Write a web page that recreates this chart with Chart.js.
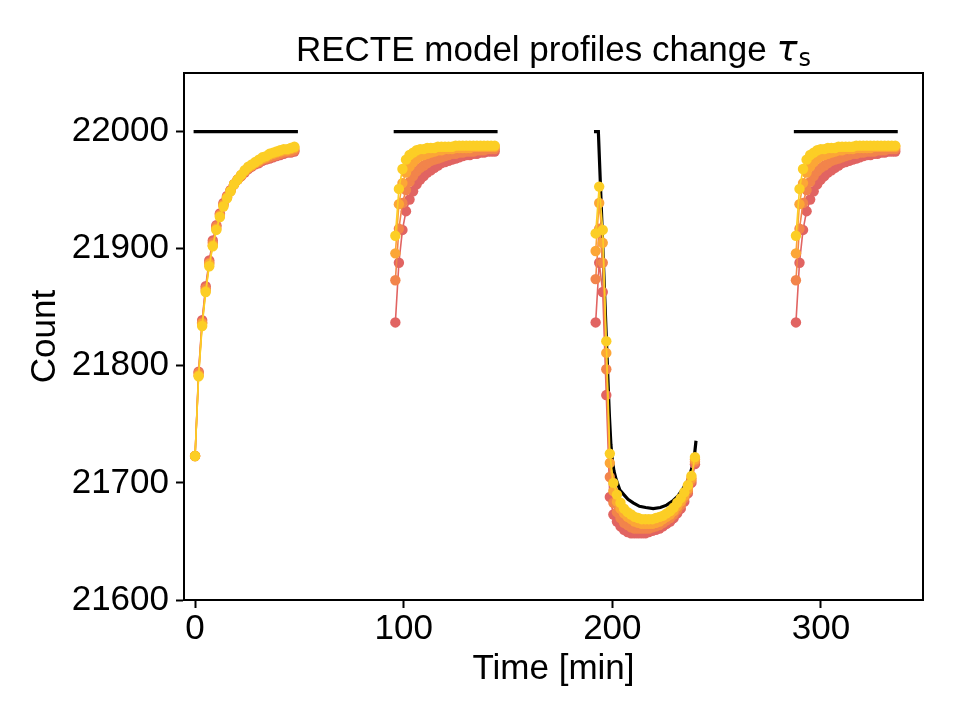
<!DOCTYPE html>
<html><head><meta charset="utf-8">
<script src="https://cdn.jsdelivr.net/npm/chart.js@4.4.1/dist/chart.umd.min.js"></script>
<style>html,body{margin:0;padding:0;background:#fff;}canvas{display:block;}</style>
</head><body>
<canvas id="c" width="960" height="720"></canvas>
<script>
// ---- data ----
const orbitStarts = [0, 96, 192, 288];
const expOffsets = [0, 1.7, 3.4, 5.1, 6.8, 8.5, 10.2, 11.9, 13.6, 15.3, 17, 18.7, 20.4, 22.1, 23.8, 25.5, 27.2, 28.9, 30.6, 32.3, 34, 35.7, 37.4, 39.1, 40.8, 42.5, 44.2, 45.9, 47.6];
const xTicks = [0, 100, 200, 300];
const yTicks = [21600, 21700, 21800, 21900, 22000];
const seriesColors = ['#e16462', '#f2844b', '#fca636', '#fcce25'];

// series 1 (red)
const redO1 = [21723, 21795, 21839, 21868, 21890, 21907, 21920, 21930, 21939, 21945, 21950, 21955, 21959, 21962, 21965, 21968, 21970, 21972, 21973, 21975, 21976, 21977, 21978, 21979, 21980, 21981, 21982, 21982, 21983];
const redO2 = [21837, 21888, 21916, 21932, 21942, 21949, 21955, 21959, 21962, 21965, 21967, 21969, 21971, 21973, 21974, 21975, 21976, 21977, 21978, 21979, 21980, 21980, 21981, 21981, 21982, 21982, 21983, 21983, 21983];
const redO3 = [21837, 21888, 21863, 21775, 21688, 21673, 21667, 21663, 21660, 21658, 21657, 21657, 21657, 21657, 21657, 21658, 21659, 21660, 21661, 21663, 21665, 21667, 21670, 21674, 21678, 21684, 21691, 21700, 21716];
const redO4 = [21837, 21888, 21916, 21932, 21942, 21949, 21955, 21959, 21962, 21965, 21967, 21969, 21971, 21973, 21974, 21975, 21976, 21977, 21978, 21979, 21980, 21980, 21981, 21981, 21982, 21982, 21983, 21983, 21983];
// series 2 (orange-red)
const orangeRedO1 = [21723, 21794, 21837, 21866, 21888, 21905, 21919, 21929, 21938, 21944, 21950, 21955, 21959, 21962, 21966, 21969, 21971, 21973, 21974, 21976, 21977, 21978, 21979, 21980, 21981, 21982, 21983, 21983, 21984];
const orangeRedO2 = [21873, 21917, 21939, 21950, 21957, 21962, 21966, 21969, 21971, 21973, 21975, 21976, 21977, 21978, 21979, 21980, 21981, 21981, 21982, 21982, 21983, 21983, 21983, 21984, 21984, 21984, 21985, 21985, 21985];
const orangeRedO3 = [21874, 21917, 21888, 21797, 21705, 21683, 21675, 21670, 21666, 21664, 21662, 21661, 21661, 21661, 21661, 21661, 21662, 21663, 21664, 21666, 21668, 21670, 21673, 21677, 21681, 21687, 21693, 21702, 21718];
const orangeRedO4 = [21873, 21917, 21939, 21950, 21957, 21962, 21966, 21969, 21971, 21973, 21975, 21976, 21977, 21978, 21979, 21980, 21981, 21981, 21982, 21982, 21983, 21983, 21983, 21984, 21984, 21984, 21985, 21985, 21985];
// series 3 (orange)
const orangeO1 = [21723, 21792, 21836, 21864, 21887, 21903, 21917, 21928, 21937, 21944, 21949, 21955, 21959, 21963, 21966, 21969, 21971, 21973, 21975, 21977, 21978, 21980, 21981, 21982, 21983, 21984, 21984, 21985, 21986];
const orangeO2 = [21896, 21938, 21956, 21965, 21970, 21974, 21977, 21979, 21980, 21981, 21982, 21983, 21984, 21984, 21985, 21985, 21985, 21986, 21986, 21986, 21986, 21986, 21987, 21987, 21987, 21987, 21987, 21987, 21987];
const orangeO3 = [21898, 21939, 21905, 21811, 21717, 21693, 21684, 21678, 21674, 21671, 21669, 21667, 21666, 21665, 21665, 21665, 21665, 21666, 21667, 21669, 21671, 21673, 21676, 21680, 21684, 21689, 21695, 21704, 21720];
const orangeO4 = [21896, 21938, 21956, 21965, 21970, 21974, 21977, 21979, 21980, 21981, 21982, 21983, 21984, 21984, 21985, 21985, 21985, 21986, 21986, 21986, 21986, 21986, 21987, 21987, 21987, 21987, 21987, 21987, 21987];
// series 4 (yellow)
const yellowO1 = [21723, 21791, 21834, 21863, 21885, 21902, 21916, 21927, 21936, 21943, 21949, 21955, 21959, 21963, 21967, 21970, 21972, 21974, 21976, 21978, 21979, 21981, 21982, 21983, 21984, 21985, 21985, 21986, 21987];
const yellowO2 = [21911, 21951, 21968, 21976, 21980, 21982, 21984, 21985, 21985, 21986, 21986, 21986, 21987, 21987, 21987, 21987, 21987, 21988, 21988, 21988, 21988, 21988, 21988, 21988, 21988, 21988, 21988, 21988, 21988];
const yellowO3 = [21913, 21953, 21916, 21821, 21725, 21700, 21690, 21683, 21678, 21675, 21673, 21671, 21670, 21669, 21669, 21669, 21669, 21670, 21671, 21672, 21674, 21676, 21679, 21683, 21687, 21692, 21698, 21706, 21722];
const yellowO4 = [21911, 21951, 21968, 21976, 21980, 21982, 21984, 21985, 21985, 21986, 21986, 21986, 21987, 21987, 21987, 21987, 21987, 21988, 21988, 21988, 21988, 21988, 21988, 21988, 21988, 21988, 21988, 21988, 21988];

// model (black) segments
const modelFlatX = [[-0.7, 49.3], [95.2, 145.0], [287.0, 336.8]];
const modelFlatY = [22000, 22000];
const modelO3X = [191.2, 193.3, 194.0, 194.8, 195.6, 196.4, 197.2, 198.0, 198.6, 199.3, 200.0, 200.8, 201.8, 203.6, 205.5, 207.5, 210.0, 213.0, 216.0, 219.6, 223.0, 226.0, 229.2, 231.5, 233.5, 235.6, 237.0, 238.5, 239.4, 240.1];
const modelO3Y = [22000, 22000, 21968, 21931, 21894, 21857, 21820, 21783, 21757, 21733, 21719, 21710, 21703, 21694, 21690, 21686, 21683, 21680, 21679, 21678, 21679, 21681, 21685, 21689, 21694, 21700, 21706, 21715, 21724, 21736];

// ---- build datasets ----
function buildSeries(orbits) {
  const pts = [];
  orbits.forEach((vals, o) => {
    vals.forEach((v, k) => pts.push({x: orbitStarts[o] + expOffsets[k], y: v}));
    pts.push({x: orbitStarts[o] + 50, y: null});
  });
  return pts;
}
const modelPts = [];
modelFlatX.slice(0, 2).forEach(seg => { seg.forEach((x, i) => modelPts.push({x, y: modelFlatY[i]})); modelPts.push({x: seg[1] + 1, y: null}); });
modelO3X.forEach((x, i) => modelPts.push({x, y: modelO3Y[i]}));
modelPts.push({x: 241, y: null});
modelFlatX[2].forEach((x, i) => modelPts.push({x, y: modelFlatY[i]}));

const seriesData = [
  buildSeries([yellowO1, yellowO2, yellowO3, yellowO4]),
  buildSeries([orangeO1, orangeO2, orangeO3, orangeO4]),
  buildSeries([orangeRedO1, orangeRedO2, orangeRedO3, orangeRedO4]),
  buildSeries([redO1, redO2, redO3, redO4])
];
const seriesColorOrder = [seriesColors[3], seriesColors[2], seriesColors[1], seriesColors[0]];

const datasets = seriesData.map((d, i) => ({
  data: d,
  borderColor: seriesColorOrder[i],
  backgroundColor: seriesColorOrder[i],
  pointBackgroundColor: seriesColorOrder[i],
  pointBorderColor: seriesColorOrder[i],
  pointBorderWidth: 0,
  pointRadius: 5.2,
  borderWidth: 1.6,
  spanGaps: false,
  tension: 0
}));
datasets.push({
  data: modelPts,
  borderColor: '#000',
  borderWidth: 3.2,
  pointRadius: 0,
  spanGaps: false,
  tension: 0,
  borderCapStyle: 'butt'
});

const FONT = '"Liberation Sans", Arial, Helvetica, sans-serif';

const framePlugin = {
  id: 'frame',
  afterDraw(chart) {
    const {ctx, chartArea: a} = chart;
    ctx.save();
    ctx.strokeStyle = '#000';
    ctx.lineWidth = 2;
    ctx.strokeRect(a.left, a.top, a.right - a.left, a.bottom - a.top);
    // title with math tau and subscript s
    const main = 'RECTE model profiles change ';
    ctx.fillStyle = '#000';
    ctx.textBaseline = 'alphabetic';
    ctx.textAlign = 'left';
    const f1 = '35px ' + FONT;
    const f2 = 'italic 35px "DejaVu Sans", sans-serif';
    const f3 = '24px "DejaVu Sans", sans-serif';
    ctx.font = f1; const w1 = ctx.measureText(main).width;
    ctx.font = f2; const w2 = ctx.measureText('τ').width;
    ctx.font = f3; const w3 = ctx.measureText('s').width;
    const total = w1 + w2 + w3 + 1;
    let x = (a.left + a.right) / 2 - total / 2;
    const base = 61;
    ctx.font = f1; ctx.fillText(main, x, base); x += w1;
    ctx.font = f2; ctx.fillText('τ', x, base); x += w2 + 1;
    ctx.font = f3; ctx.fillText('s', x, base + 5);
    ctx.restore();
  }
};

new Chart(document.getElementById('c'), {
  type: 'line',
  data: {datasets},
  options: {
    responsive: false,
    animation: false,
    events: [],
    layout: {padding: {top: 73, right: 37, bottom: 0, left: 0}},
    plugins: {legend: {display: false}, tooltip: {enabled: false}, title: {display: false}},
    scales: {
      x: {
        type: 'linear',
        min: -5.3, max: 348.9,
        afterBuildTicks: s => { s.ticks = xTicks.map(v => ({value: v})); },
        afterFit: s => { s.height = 120; },
        ticks: {color: '#000', font: {family: FONT, size: 35}, padding: 0, maxRotation: 0, callback: v => String(v)},
        grid: {display: true, drawOnChartArea: false, drawTicks: true, tickLength: 8, tickColor: '#000', tickWidth: 2},
        border: {display: true, color: '#000', width: 2},
        title: {display: true, text: 'Time [min]', color: '#000', font: {family: FONT, size: 35}, padding: {top: 0, bottom: 30}}
      },
      y: {
        type: 'linear',
        min: 21600, max: 22050,
        afterBuildTicks: s => { s.ticks = yTicks.map(v => ({value: v})); },
        afterFit: s => { s.width = 184; },
        ticks: {color: '#000', font: {family: FONT, size: 35}, padding: 7, callback: v => String(v)},
        grid: {display: true, drawOnChartArea: false, drawTicks: true, tickLength: 8, tickColor: '#000', tickWidth: 2},
        border: {display: true, color: '#000', width: 2},
        title: {display: true, text: 'Count', color: '#000', font: {family: FONT, size: 35}, padding: {top: 24, bottom: 0}}
      }
    }
  },
  plugins: [framePlugin]
});
</script>
</body></html>
